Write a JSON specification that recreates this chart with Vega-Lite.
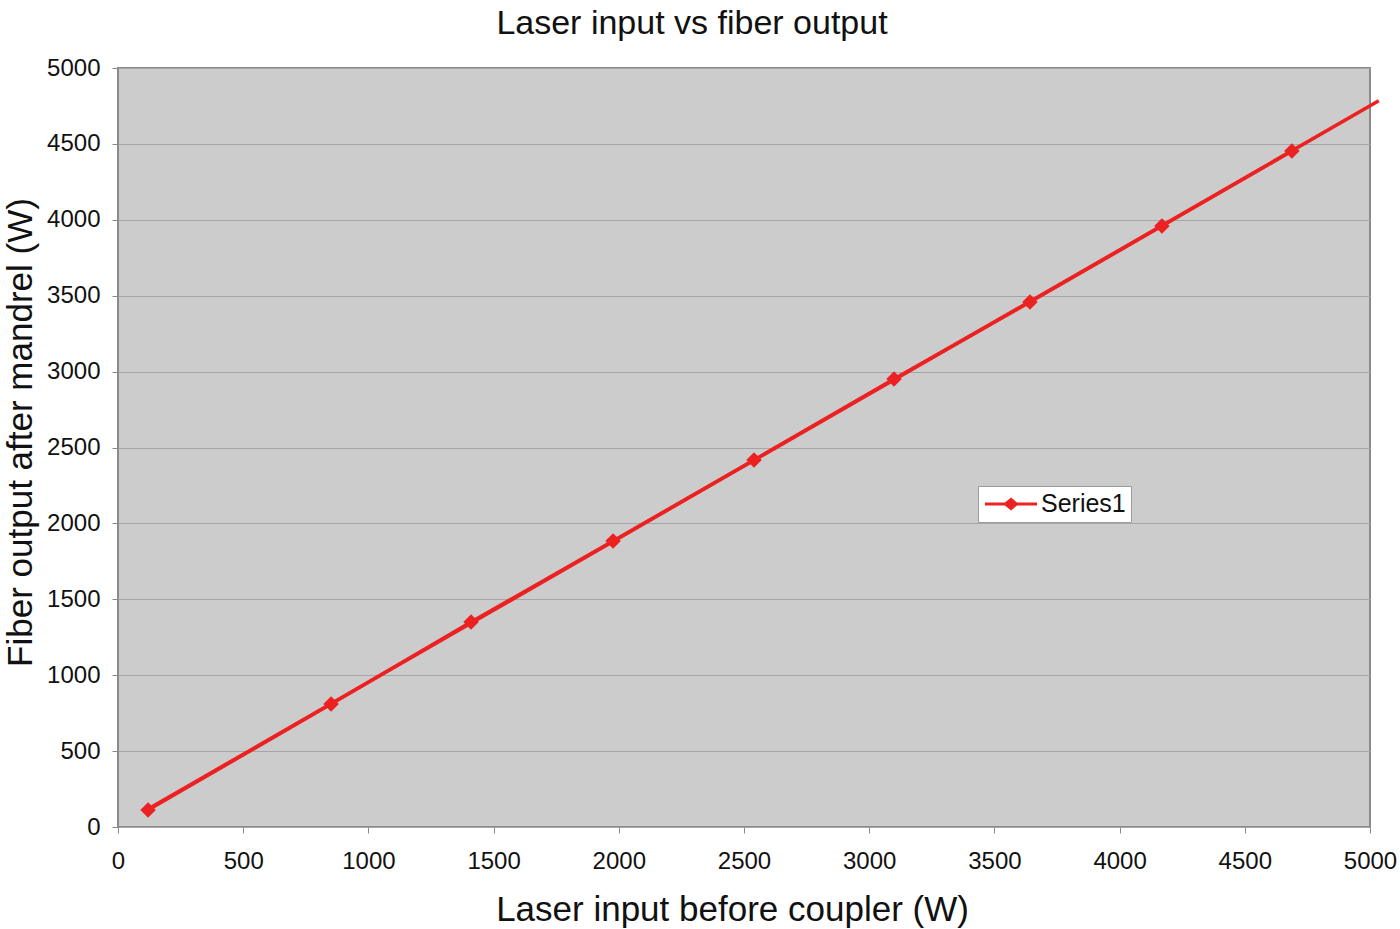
{
  "$schema": "https://vega.github.io/schema/vega-lite/v6.json",
  "autosize": "none",
  "width": 1252,
  "height": 759,
  "padding": {"left": 118, "top": 68, "right": 30, "bottom": 102},
  "background": "white",
  "config": {
    "font": "Liberation Sans",
    "view": {"fill": "#cccccc", "stroke": "#8a8a8a", "strokeWidth": 2}
  },
  "title": {
    "text": "Laser input vs fiber output",
    "fontSize": 34,
    "fontWeight": "normal",
    "color": "#111111",
    "font": "Liberation Sans",
    "dx": -52,
    "offset": 15
  },
  "data": {
    "values": [
      {"input": 120, "output": 112, "series": "Series1"},
      {"input": 851, "output": 810, "series": "Series1"},
      {"input": 1410, "output": 1350, "series": "Series1"},
      {"input": 1977, "output": 1884, "series": "Series1"},
      {"input": 2540, "output": 2418, "series": "Series1"},
      {"input": 3099, "output": 2951, "series": "Series1"},
      {"input": 3642, "output": 3458, "series": "Series1"},
      {"input": 4169, "output": 3959, "series": "Series1"},
      {"input": 4688, "output": 4453, "series": "Series1"}
    ]
  },
  "encoding": {
    "x": {
      "field": "input",
      "type": "quantitative",
      "scale": {"domain": [0, 5000], "nice": false, "zero": true},
      "axis": {
        "title": "Laser input before coupler (W)",
        "titleFontSize": 35,
        "titleFontWeight": "normal",
        "titleColor": "#111111",
        "titleX": 614,
        "titleAlign": "center",
        "titlePadding": 19,
        "values": [0, 500, 1000, 1500, 2000, 2500, 3000, 3500, 4000, 4500, 5000],
        "format": "d",
        "labelFontSize": 24,
        "labelColor": "#111111",
        "labelPadding": 16,
        "labelFlush": false,
        "tickSize": 6,
        "tickColor": "#8a8a8a",
        "domain": false,
        "grid": false
      }
    },
    "y": {
      "field": "output",
      "type": "quantitative",
      "scale": {"domain": [0, 5000], "nice": false},
      "axis": {
        "title": "Fiber output after mandrel (W)",
        "titleFontSize": 35,
        "titleFontWeight": "normal",
        "titleColor": "#111111",
        "titleY": 364,
        "titleAlign": "center",
        "titlePadding": 8,
        "values": [0, 500, 1000, 1500, 2000, 2500, 3000, 3500, 4000, 4500, 5000],
        "format": "d",
        "labelFontSize": 24,
        "labelColor": "#111111",
        "labelPadding": 12,
        "labelFlush": false,
        "tickSize": 6,
        "tickColor": "#8a8a8a",
        "domain": false,
        "grid": true,
        "gridColor": "#a6a6a6",
        "gridWidth": 1
      }
    }
  },
  "layer": [
    {
      "mark": {"type": "line", "color": "#ec2222", "strokeWidth": 3.5}
    },
    {
      "transform": [
        {"regression": "output", "on": "input", "extent": [120, 5035]}
      ],
      "mark": {"type": "line", "color": "#ec2222", "strokeWidth": 3.5, "clip": false}
    },
    {
      "mark": {"type": "point", "shape": "diamond", "filled": true, "size": 240, "opacity": 1},
      "encoding": {
        "color": {
          "field": "series",
          "type": "nominal",
          "scale": {"range": ["#ec2222"]},
          "legend": {
            "title": null,
            "orient": "none",
            "legendX": 860,
            "legendY": 418,
            "direction": "vertical",
            "fillColor": "white",
            "strokeColor": "#9a9a9a",
            "padding": 5,
            "labelFontSize": 25,
            "labelColor": "#111111",
            "labelOffset": 17,
            "symbolOffset": 15,
            "symbolType": "M-2,-0.12L-0.46,-0.12L0,-0.5L0.46,-0.12L2,-0.12L2,0.12L0.46,0.12L0,0.5L-0.46,0.12L-2,0.12Z",
            "symbolSize": 676,
            "symbolFillColor": "#ec2222",
            "symbolStrokeWidth": 0,
            "symbolOpacity": 1
          }
        }
      }
    }
  ]
}
